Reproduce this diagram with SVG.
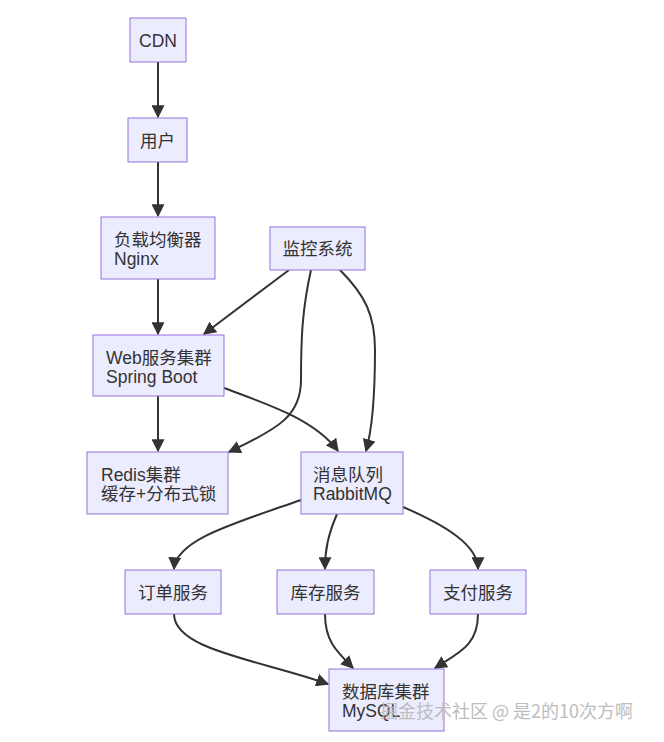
<svg xmlns="http://www.w3.org/2000/svg" width="664" height="742" viewBox="0 0 664 742">
<style>
.node rect{fill:#ECECFF;stroke:#9370DB;stroke-width:1}
.node text{font-family:"Liberation Sans","Noto Sans CJK SC",sans-serif;font-size:17.5px;fill:#333}
.c{text-anchor:middle}
.edges path{fill:none;stroke:#333;stroke-width:2}
.wm{font-family:"Noto Sans CJK SC","Liberation Sans",sans-serif;font-size:18px;fill:#bdbdbd}
</style>
<defs>
<marker id="arr" viewBox="0 0 10 10" refX="9" refY="5" markerUnits="userSpaceOnUse" markerWidth="13" markerHeight="13" orient="auto">
<path d="M0,0 L10,5 L0,10 z" fill="#333"/>
</marker>
</defs>
<rect width="664" height="742" fill="#fff"/>
<g class="edges">
<path d="M158,62 L158,117" marker-end="url(#arr)"/>
<path d="M158,162 L158,216" marker-end="url(#arr)"/>
<path d="M158,279 L158,334" marker-end="url(#arr)"/>
<path d="M158,396 L158,451" marker-end="url(#arr)"/>
<path d="M289,270 L204,334" marker-end="url(#arr)"/>
<path d="M311,270 C302,310 301,340 301,380 C301,415 280,428 229,452" marker-end="url(#arr)"/>
<path d="M340,270 C365,295 375,315 375,350 C375,400 372,430 366,451" marker-end="url(#arr)"/>
<path d="M224,388 C270,405 315,420 338,451" marker-end="url(#arr)"/>
<path d="M301,500 C232,524 176,540 174,569" marker-end="url(#arr)"/>
<path d="M337,514 C328,535 325,550 325,569" marker-end="url(#arr)"/>
<path d="M403,507 C445,525 478,545 478,569" marker-end="url(#arr)"/>
<path d="M174,614 C174,650 260,660 328,684" marker-end="url(#arr)"/>
<path d="M325,614 C325,640 335,650 353,668" marker-end="url(#arr)"/>
<path d="M478,614 C478,645 460,652 435,668" marker-end="url(#arr)"/>
</g>
<g id="cdn" class="node"><rect x="130" y="18" width="56" height="44"/><text class="c" x="158" y="47">CDN</text></g>
<g id="user" class="node"><rect x="128" y="118" width="59" height="44"/><text class="c" x="157.5" y="146.5">用户</text></g>
<g id="lb" class="node"><rect x="101" y="217" width="114" height="62"/><text x="114" y="245.5">负载均衡器</text><text x="114" y="264.5">Nginx</text></g>
<g id="monitor" class="node"><rect x="270" y="227" width="95" height="43"/><text class="c" x="317.5" y="255">监控系统</text></g>
<g id="web" class="node"><rect x="93" y="335" width="131" height="61"/><text x="106" y="363.5">Web服务集群</text><text x="106" y="382.5">Spring Boot</text></g>
<g id="redis" class="node"><rect x="87" y="452" width="141" height="62"/><text x="101" y="481">Redis集群</text><text x="101" y="500">缓存+分布式锁</text></g>
<g id="mq" class="node"><rect x="301" y="452" width="102" height="62"/><text x="313" y="481">消息队列</text><text x="313" y="500">RabbitMQ</text></g>
<g id="order" class="node"><rect x="125" y="570" width="96" height="44"/><text class="c" x="173" y="598.5">订单服务</text></g>
<g id="stock" class="node"><rect x="277" y="570" width="97" height="44"/><text class="c" x="325.5" y="598.5">库存服务</text></g>
<g id="pay" class="node"><rect x="430" y="570" width="96" height="44"/><text class="c" x="478" y="598.5">支付服务</text></g>
<g id="db" class="node"><rect x="329" y="669" width="115" height="62"/><text x="342" y="698">数据库集群</text><text x="342" y="717">MySQL</text></g>
<text class="wm" x="380" y="718">掘金技术社区 @ 是2的10次方啊</text>
</svg>
